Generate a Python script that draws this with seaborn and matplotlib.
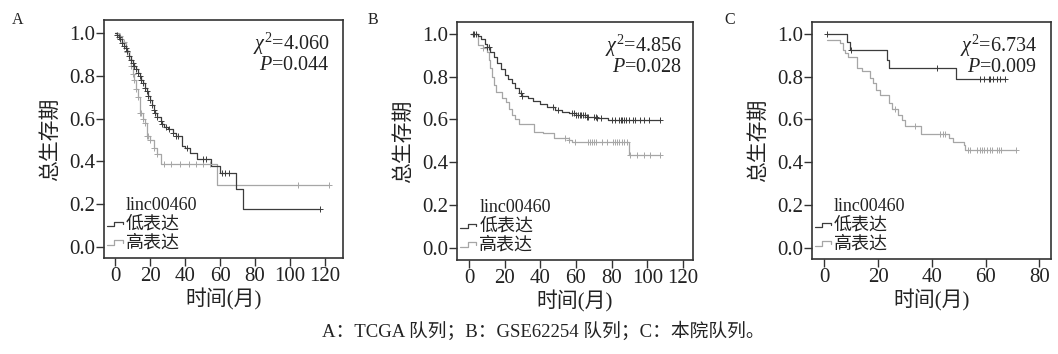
import numpy as np
import pandas as pd
import matplotlib
matplotlib.use("Agg")
import matplotlib.pyplot as plt
import seaborn as sns
from matplotlib.legend_handler import HandlerBase
from matplotlib.lines import Line2D

# ---------------- data ----------------
# Panel A: TCGA cohort
a_low_t = [0, 1, 2, 3, 4, 5, 6, 7, 8, 9, 10, 11, 12, 13, 14, 15, 16, 17, 18, 19, 20,
           21, 22, 23, 24, 26, 27, 28, 30, 33, 35, 38, 40, 43, 47, 55, 60, 69, 73, 117]
a_low_s = [1.0, 0.99, 0.98, 0.97, 0.955, 0.94, 0.93, 0.915, 0.895, 0.875, 0.86, 0.845,
           0.83, 0.815, 0.80, 0.78, 0.765, 0.745, 0.73, 0.705, 0.685, 0.665, 0.64, 0.625,
           0.61, 0.59, 0.575, 0.56, 0.55, 0.535, 0.52, 0.47, 0.465, 0.44, 0.41, 0.378,
           0.344, 0.272, 0.18, 0.18]
a_low_cens = [1, 2, 3, 4, 5, 6, 7, 8, 9, 10, 11, 12, 13, 14, 15, 16, 17, 18, 19, 20, 21,
              22, 23, 24, 26, 27, 29, 31, 33, 35, 36, 41, 50, 52, 61, 63, 65, 117]
a_high_t = [0, 2, 4, 6, 7, 8, 9, 10, 11, 12, 13, 14, 16, 17, 18, 20, 22, 24, 26, 58, 122.5]
a_high_s = [1.0, 0.985, 0.96, 0.93, 0.91, 0.88, 0.845, 0.81, 0.78, 0.74, 0.70, 0.625,
            0.60, 0.578, 0.52, 0.50, 0.465, 0.435, 0.39, 0.292, 0.292]
a_high_cens = [3, 5, 7, 9, 10, 11, 12, 13, 14, 15, 16, 17, 18, 19, 20, 22, 24,
               28, 32, 37, 42, 46, 50, 54, 104.5, 122.5]

# Panel B: GSE62254 cohort
b_low_t = [1, 5, 7, 9, 10, 12, 14, 16, 18, 20, 22, 24, 26, 28, 30, 33, 36, 40, 44, 48,
           52, 56, 60, 66, 72, 78, 107]
b_low_s = [1.0, 0.99, 0.975, 0.955, 0.94, 0.915, 0.89, 0.865, 0.835, 0.81, 0.79, 0.77,
           0.745, 0.725, 0.71, 0.70, 0.688, 0.67, 0.66, 0.645, 0.636, 0.628, 0.62, 0.612,
           0.605, 0.595, 0.595]
b_low_cens = [2, 3, 4, 10, 11, 29, 30, 47, 50, 58, 59, 60, 61, 62, 63, 64, 65, 66, 67,
              70, 71, 72, 74, 80, 82, 84, 85, 86, 87, 88, 90, 92, 93, 96, 98, 101, 107]
b_high_t = [1, 5, 8, 10, 11, 12, 13, 14, 15, 18.5, 21, 22.5, 24, 26, 28, 34.4, 36.3,
            41.5, 47.5, 56, 58, 90, 107]
b_high_s = [1.0, 0.948, 0.935, 0.917, 0.88, 0.84, 0.80, 0.76, 0.73, 0.70, 0.683, 0.65,
            0.62, 0.60, 0.58, 0.577, 0.543, 0.535, 0.512, 0.505, 0.492, 0.432, 0.432]
b_high_cens = [8, 54, 56, 59.5, 67, 68, 69, 70, 71, 74.5, 77.3, 81, 82, 83, 84, 86, 87,
               88.5, 90.5, 94, 98, 101.5, 107]

# Panel C: hospital cohort
c_low_t = [1, 8.4, 9.5, 23.3, 24.2, 49, 67.2]
c_low_s = [1.0, 0.962, 0.923, 0.88, 0.84, 0.791, 0.791]
c_low_cens = [1, 10, 42, 58, 59.2, 61.1, 61.7, 62.9, 64.2, 65.4, 67.2]
c_high_t = [1, 5.9, 7.1, 7.7, 8.9, 12.1, 13.9, 17, 18.2, 19.2, 20.7, 24.1, 25.3, 27.5,
            29, 30, 36, 46.2, 48, 51.8, 52.4, 71.4]
c_high_s = [0.972, 0.956, 0.925, 0.91, 0.891, 0.842, 0.827, 0.793, 0.77, 0.738, 0.715,
            0.676, 0.649, 0.621, 0.598, 0.571, 0.53, 0.512, 0.496, 0.48, 0.457, 0.457]
c_high_cens = [26.1, 33.8, 43.1, 44.1, 44.8, 53.3, 54.0, 56.8, 57.8, 58.6, 59.5, 60.5,
               61.5, 62.3, 64.2, 64.8, 65.7, 71.4]

panel_letters = ["A", "B", "C"]
chi_values = ["4.060", "4.856", "6.734"]
p_values = ["0.044", "0.028", "0.009"]
group_labels = ["低表达", "高表达"]
legend_title = "linc00460"
x_ticks = [[0, 20, 40, 60, 80, 100, 120], [0, 20, 40, 60, 80, 100, 120], [0, 20, 40, 60, 80]]
y_ticks = [0.0, 0.2, 0.4, 0.6, 0.8, 1.0]
x_label = "时间(月)"
y_label = "总生存期"
caption = "A：TCGA 队列；B：GSE62254 队列；C：本院队列。"

# ---------------- style ----------------
sns.set_style("ticks")
fam = ["Liberation Serif", "Noto Sans CJK SC"]
plt.rcParams["font.family"] = fam
plt.rcParams["mathtext.fontset"] = "custom"
plt.rcParams["mathtext.rm"] = "Liberation Serif"
plt.rcParams["mathtext.it"] = "Liberation Serif:italic"
plt.rcParams["axes.unicode_minus"] = False

DARK = "#3c3c3c"
LIGHT = "#a6a6a6"
FRAME = "#333333"
TXT = "#222222"


class StepHandler(HandlerBase):
    def create_artists(self, legend, orig_handle, xdescent, ydescent, width, height,
                       fontsize, trans):
        xs = np.array([0, 0.45, 0.45, 1.0, 1.0]) * width - xdescent
        ys = np.array([0.2, 0.2, 0.55, 0.55, 0.35]) * height - ydescent
        ln = Line2D(xs, ys, color=orig_handle.get_color(), lw=0.9)
        ln.set_transform(trans)
        return [ln]


W, H = 1058, 354
fig = plt.figure(figsize=(W / 100, H / 100), dpi=100)

# axes boxes in pixels (left, right, top, bottom)
boxes = [(104, 343, 20, 258), (457, 693, 22, 260), (812, 1051, 22, 259)]
xlims = [(-6.3, 130.3), (-6.7, 125.6), (-4.6, 84.3)]
ylims = [(-0.051, 1.061), (-0.058, 1.056), (-0.053, 1.056)]
anno_x = [0.946, 0.953, 0.94]
letter_px = [(12, 20), (368, 20), (724, 20)]

panels = [
    (a_low_t, a_low_s, a_low_cens, a_high_t, a_high_s, a_high_cens),
    (b_low_t, b_low_s, b_low_cens, b_high_t, b_high_s, b_high_cens),
    (c_low_t, c_low_s, c_low_cens, c_high_t, c_high_s, c_high_cens),
]


def step_value(t_arr, s_arr, ct):
    t_arr = np.asarray(t_arr, float)
    idx = np.searchsorted(t_arr, np.asarray(ct, float), side="right") - 1
    idx = np.clip(idx, 0, len(t_arr) - 1)
    return np.asarray(s_arr, float)[idx]


for i, (lt, ls, lc, ht, hs, hc) in enumerate(panels):
    l, r, t, b = boxes[i]
    ax = fig.add_axes([l / W, (H - b) / H, (r - l) / W, (b - t) / H])
    for tt, ss, cc, col in [(ht, hs, hc, LIGHT), (lt, ls, lc, DARK)]:
        sns.lineplot(x=tt, y=ss, ax=ax, color=col, lw=0.9, drawstyle="steps-post",
                     estimator=None, sort=False)
        sns.scatterplot(x=cc, y=step_value(tt, ss, cc), ax=ax, color=col, marker="+",
                        s=22, linewidth=0.7, zorder=3)
    ax.set_xlim(*xlims[i])
    ax.set_ylim(*ylims[i])
    ax.set_xticks(x_ticks[i])
    ax.set_yticks(y_ticks)
    ax.set_yticklabels([f"{v:.1f}" for v in y_ticks])
    ax.tick_params(axis="both", direction="out", length=5.5, width=1, color=FRAME,
                   labelsize=15, pad=1, labelcolor=TXT)
    for sp in ax.spines.values():
        sp.set_visible(True)
        sp.set_color(FRAME)
        sp.set_linewidth(1.2)
    ax.set_xlabel(x_label, fontsize=15, labelpad=2, color=TXT)
    ax.set_ylabel(y_label, fontsize=15, labelpad=6, color=TXT)

    ax.text(anno_x[i], 0.955, r"$\chi^2$=" + chi_values[i], transform=ax.transAxes,
            ha="right", va="top", fontsize=14.5, color=TXT)
    ax.text(anno_x[i], 0.85, r"$P$=" + p_values[i], transform=ax.transAxes,
            ha="right", va="top", fontsize=14.5, color=TXT)

    handles = [Line2D([], [], color="none"), Line2D([], [], color=DARK),
               Line2D([], [], color=LIGHT)]
    leg = ax.legend(handles, [legend_title] + group_labels, loc="lower left",
                    bbox_to_anchor=(-0.04, -0.025), frameon=False, fontsize=13,
                    handlelength=0.9, handletextpad=0.15,
                    labelspacing=0.1, borderpad=0.2,
                    handler_map={Line2D: StepHandler()})
    for txt in leg.get_texts():
        txt.set_color(TXT)

    fig.text(letter_px[i][0] / W, 1 - letter_px[i][1] / H, panel_letters[i],
             fontsize=11.5, ha="left", va="center", color=TXT)

fig.text(543 / W, 1 - 331 / H, caption, fontsize=13.5, ha="center", va="center",
         color=TXT)

fig.savefig("out.png", dpi=100, facecolor="white")
